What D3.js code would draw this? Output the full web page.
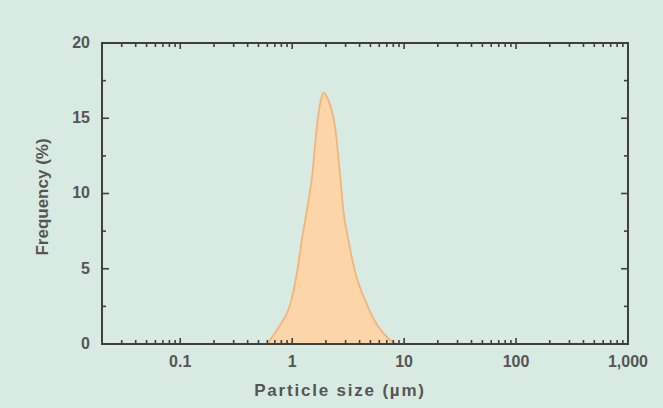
<!DOCTYPE html>
<html>
<head>
<meta charset="utf-8">
<script src="https://cdn.jsdelivr.net/npm/d3@7"></script>
<style>
  html, body { margin: 0; padding: 0; background: #d8ebe2; }
  svg { display: block; }
</style>
</head>
<body>
<svg id="chart" width="663" height="408"></svg>
<script>
// ---- data ----
const particleSizes = [0.6, 0.634, 0.78, 0.957, 1.107, 1.225, 1.36, 1.51, 1.67, 1.78, 1.89, 2.05, 2.2, 2.42, 2.68, 2.85, 3.16, 3.65, 4.67, 5.74, 7.49, 8.5];
const frequencies   = [0, 0.27, 1.26, 2.6, 4.8, 7.0, 9.0, 11.2, 14.6, 16.0, 16.7, 16.4, 15.8, 14.4, 11.2, 9.0, 7.0, 4.8, 2.6, 1.26, 0.27, 0];
const xTickValues = [0.1, 1, 10, 100, 1000];
const xTickLabels = ["0.1", "1", "10", "100", "1,000"];
const yTickValues = [0, 5, 10, 15, 20];
const yMinorTicks = [2.5, 7.5, 12.5, 17.5];
const xTitle = "Particle size (\u00b5m)";
const yTitle = "Frequency (%)";

(function () {
// ---- layout ----
const W = 663, H = 408;
const pLeft = 102, pRight = 628, pTop = 43, pBottom = 344;
const svg = d3.select("#chart");
svg.append("rect").attr("width", W).attr("height", H).attr("fill", "#d8ebe2");

const x = d3.scaleLog().domain([0.02, 1000]).range([pLeft, pRight]);
const y = d3.scaleLinear().domain([0, 20]).range([pBottom, pTop]);

// ---- distribution ----
const pts = particleSizes.map((s, i) => [s, frequencies[i]]);
const area = d3.area()
  .x(d => x(d[0])).y0(y(0)).y1(d => y(d[1]))
  .curve(d3.curveMonotoneX);
const line = d3.line()
  .x(d => x(d[0])).y(d => y(d[1]))
  .curve(d3.curveMonotoneX);
svg.append("path").datum(pts).attr("d", area)
  .attr("fill", "#fcd6a9");
svg.append("path").datum(pts).attr("d", line)
  .attr("fill", "none").attr("stroke", "#f3b47c").attr("stroke-width", 1.8);

// ---- log ticks ----
const logTicks = [];
for (let e = -2; e <= 3; e++) {
  for (let k = 1; k <= 9; k++) {
    const v = k * Math.pow(10, e);
    if (v > 0.0201 && v <= 1000.001) logTicks.push({ v, major: k === 1 });
  }
}
const axisColor = "#3f3f3f";
const tg = svg.append("g").attr("stroke", axisColor).attr("stroke-width", 1.6);
logTicks.forEach(t => {
  const len = t.major ? 6 : 4;
  tg.append("line").attr("x1", x(t.v)).attr("x2", x(t.v)).attr("y1", pBottom).attr("y2", pBottom - len);
  tg.append("line").attr("x1", x(t.v)).attr("x2", x(t.v)).attr("y1", pTop).attr("y2", pTop + len);
});
// y ticks (both sides, inward)
yTickValues.filter(v => v > 0 && v < 20).forEach(v => {
  tg.append("line").attr("x1", pLeft).attr("x2", pLeft + 7).attr("y1", y(v)).attr("y2", y(v));
  tg.append("line").attr("x1", pRight).attr("x2", pRight - 7).attr("y1", y(v)).attr("y2", y(v));
});
yMinorTicks.forEach(v => {
  tg.append("line").attr("x1", pLeft).attr("x2", pLeft + 4).attr("y1", y(v)).attr("y2", y(v));
  tg.append("line").attr("x1", pRight).attr("x2", pRight - 4).attr("y1", y(v)).attr("y2", y(v));
});

// ---- frame ----
svg.append("rect").attr("x", pLeft).attr("y", pTop)
  .attr("width", pRight - pLeft).attr("height", pBottom - pTop)
  .attr("fill", "none").attr("stroke", axisColor).attr("stroke-width", 2);

// ---- tick labels ----
const labelColor = "#555555";
const font = "'Liberation Sans', Arial, Helvetica, sans-serif";
svg.append("g").selectAll("text").data(xTickValues).join("text")
  .attr("x", d => x(d)).attr("y", 367)
  .attr("text-anchor", "middle")
  .attr("font-family", font).attr("font-size", 16).attr("font-weight", "bold")
  .attr("fill", labelColor)
  .text((d, i) => xTickLabels[i]);
svg.append("g").selectAll("text").data(yTickValues).join("text")
  .attr("x", 90).attr("y", d => y(d)).attr("dy", "0.3em")
  .attr("text-anchor", "end")
  .attr("font-family", font).attr("font-size", 16).attr("font-weight", "bold")
  .attr("fill", labelColor)
  .text(d => d);

// ---- axis titles ----
svg.append("text")
  .attr("x", 340).attr("y", 396)
  .attr("text-anchor", "middle")
  .attr("font-family", font).attr("font-size", 17).attr("font-weight", "bold")
  .attr("letter-spacing", "1.8px")
  .attr("fill", labelColor)
  .text(xTitle);
svg.append("text")
  .attr("transform", `translate(48,197) rotate(-90)`)
  .attr("text-anchor", "middle")
  .attr("font-family", font).attr("font-size", 17).attr("font-weight", "bold")
  .attr("fill", labelColor)
  .text(yTitle);
})();
</script>
</body>
</html>
